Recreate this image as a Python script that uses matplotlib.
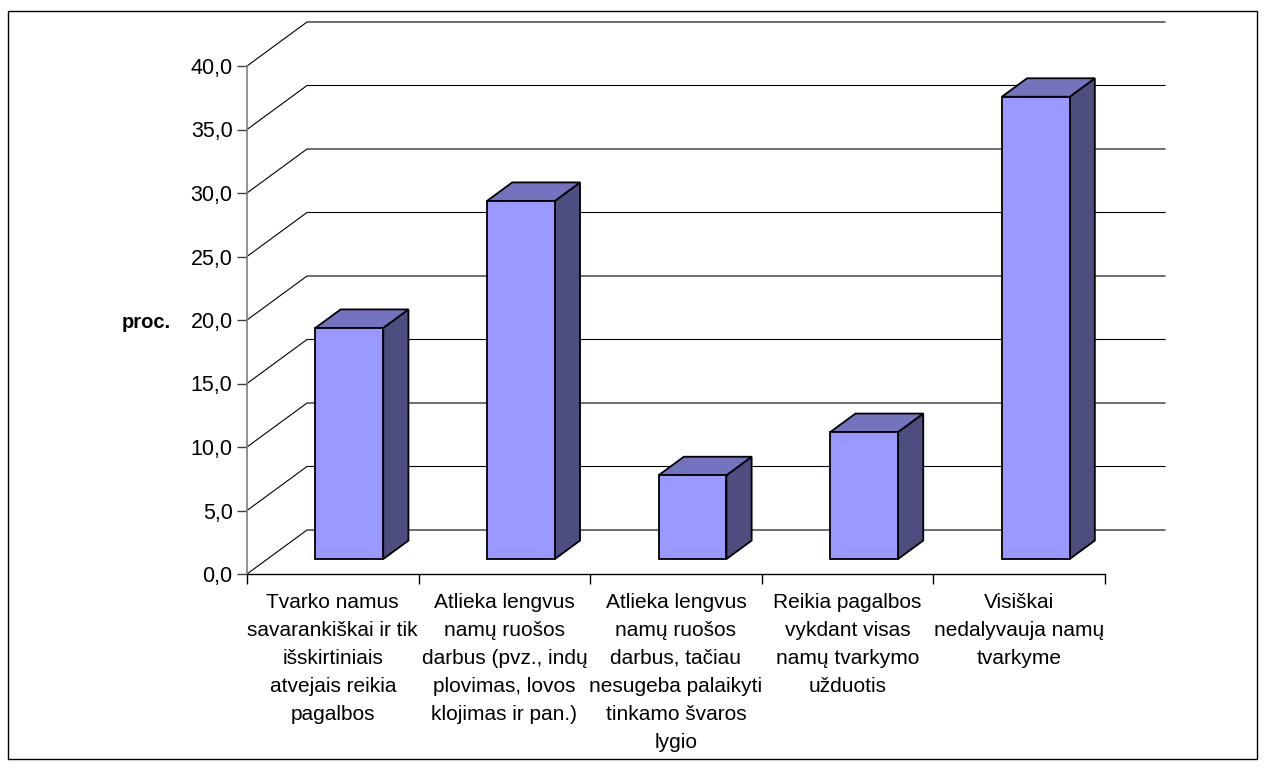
import matplotlib
matplotlib.use("Agg")
import matplotlib.pyplot as plt
from matplotlib.patches import Polygon, Rectangle

plt.rcParams['font.family'] = ['Liberation Sans', 'DejaVu Sans']

categories = [
    "Tvarko namus\nsavarankiškai ir tik\nišskirtiniais\natvejais reikia\npagalbos",
    "Atlieka lengvus\nnamų ruošos\ndarbus (pvz., indų\nplovimas, lovos\nklojimas ir pan.)",
    "Atlieka lengvus\nnamų ruošos\ndarbus, tačiau\nnesugeba palaikyti\ntinkamo švaros\nlygio",
    "Reikia pagalbos\nvykdant visas\nnamų tvarkymo\nužduotis",
    "Visiškai\nnedalyvauja namų\ntvarkyme",
]
values = [18.2, 28.2, 6.6, 10.0, 36.4]
yticks = [0, 5, 10, 15, 20, 25, 30, 35, 40]
ytick_labels = ["0,0", "5,0", "10,0", "15,0", "20,0", "25,0", "30,0", "35,0", "40,0"]
ylabel = "proc."

W, H = 1266, 769
fig = plt.figure(figsize=(W / 100, H / 100), dpi=100)

# pixel geometry of the plot
x0_px, x1_px = 247, 1105        # front floor line
y0_px, y40_px = 574, 66         # 0 and 40 on the front axis
depth_dx_px, depth_dy_px = 60, 44

ncat = len(categories)
ymax = 40
DX = depth_dx_px / ((x1_px - x0_px) / ncat)
DY = depth_dy_px / ((y0_px - y40_px) / ymax)

left = x0_px / W
right = (x1_px + depth_dx_px) / W
bottom = (H - y0_px) / H
top = (H - (y40_px - depth_dy_px)) / H
ax = fig.add_axes([left, bottom, right - left, top - bottom])
ax.set_xlim(0, ncat + DX)
ax.set_ylim(0, ymax + DY)

def P(x, y, f):
    return (x + f * DX, y + f * DY)

# back wall gridlines
for v in yticks:
    ax.plot([0, DX, ncat + DX], [v, v + DY, v + DY], color='black', lw=0.8,
            solid_joinstyle='miter', zorder=1, clip_on=False)

# bars
f0, f1 = 0.34, 0.76
bl, bw = 0.28, 0.395
front_c = '#9999FF'
top_c = '#7373BF'
side_c = '#4D4D80'
for i, v in enumerate(values):
    xl = i + bl
    xr = xl + bw
    front = [P(xl, 0, f0), P(xr, 0, f0), P(xr, v, f0), P(xl, v, f0)]
    topf = [P(xl, v, f0), P(xr, v, f0), P(xr, v, f1), P(xl, v, f1)]
    side = [P(xr, 0, f0), P(xr, 0, f1), P(xr, v, f1), P(xr, v, f0)]
    for poly, c in ((side, side_c), (topf, top_c), (front, front_c)):
        ax.add_patch(Polygon(poly, closed=True, facecolor=c, edgecolor='black',
                             lw=1.3, joinstyle='miter', zorder=3))

# axes styling
for s in ('top', 'right'):
    ax.spines[s].set_visible(False)
ax.spines['left'].set_bounds(0, ymax)
ax.spines['left'].set_color('#808080')
ax.spines['left'].set_linewidth(1.2)
ax.spines['bottom'].set_bounds(0, ncat)
ax.spines['bottom'].set_color('black')
ax.spines['bottom'].set_linewidth(1.0)
ax.spines['left'].set_zorder(2)

ax.set_yticks(yticks)
ax.set_yticklabels(ytick_labels, fontsize=15.5)
ax.tick_params(axis='y', length=7.2, width=1.0, color='#404040', pad=3.2)

ax.set_xticks(range(ncat + 1))
ax.set_xticklabels([])
ax.tick_params(axis='x', which='major', length=7.2, width=1.0, color='black')
ax.set_xticks([i + 0.5 for i in range(ncat)], minor=True)
ax.set_xticklabels(categories, minor=True, fontsize=15, linespacing=1.6)
ax.tick_params(axis='x', which='minor', length=0, pad=13.5)
ax.patch.set_alpha(0)

fig.text(146 / W, 1 - 322 / H, ylabel, fontsize=14.5, fontweight='bold',
         ha='center', va='center')

# outer border
fig.patches.append(Rectangle((8 / W, 1 - 759 / H), (1257 - 8) / W, (759 - 11) / H,
                             transform=fig.transFigure, fill=False,
                             edgecolor='black', lw=1.0))

fig.savefig('out.png', dpi=100)
